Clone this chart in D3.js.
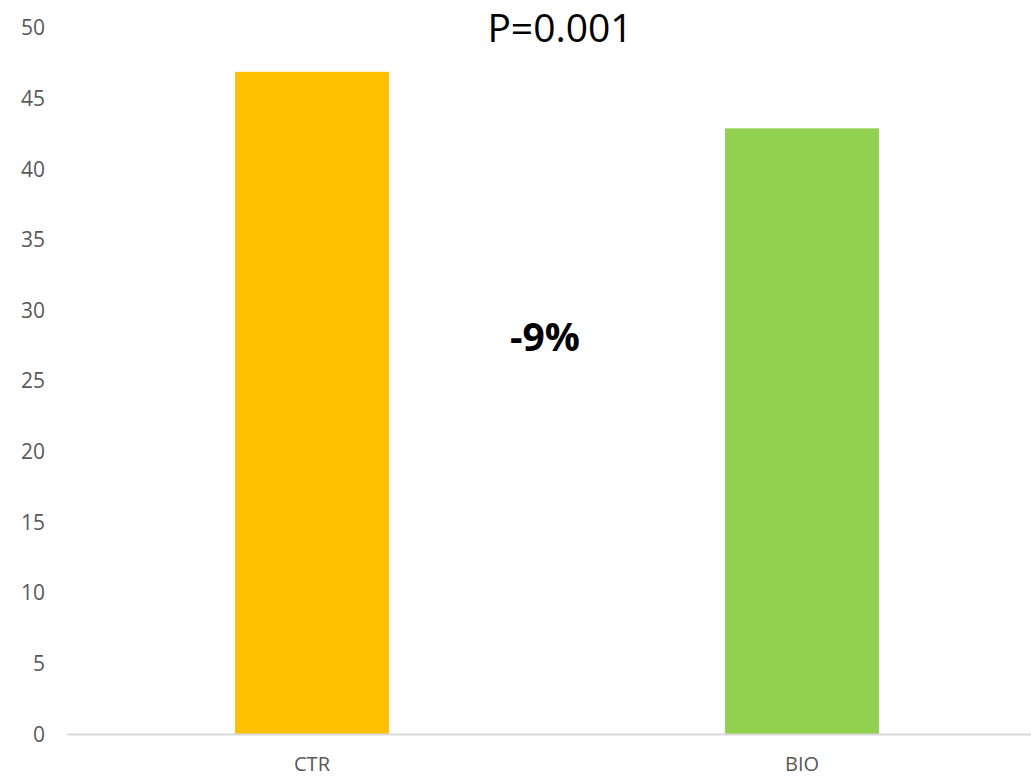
<!DOCTYPE html>
<html>
<head>
<meta charset="utf-8">
<script src="https://cdn.jsdelivr.net/npm/d3@7"></script>
<style>
  html, body { margin: 0; padding: 0; background: #fff; }
  svg { display: block; }
</style>
</head>
<body>
<svg id="chart" width="1031" height="776"></svg>
<script>
const categories = ["CTR", "BIO"];
const values = [46.9, 42.9];
const colors = ["#FFC000", "#92D050"];
const yTicks = [0, 5, 10, 15, 20, 25, 30, 35, 40, 45, 50];
const titleText = "P=0.001";
const changeText = "-9%";

const svg = d3.select("#chart");
const font = "'Open Sans', sans-serif";

const x = d3.scaleBand().domain(categories).range([67, 1047]).paddingInner(0.686).paddingOuter(0.343);
const y = d3.scaleLinear().domain([0, 50]).range([734.5, 28]);

// y tick labels
const yAxis = d3.axisLeft(y).tickValues(yTicks).tickSize(0).tickPadding(0);
const gy = svg.append("g").attr("transform", "translate(45,0)").call(yAxis);
gy.select(".domain").remove();
gy.selectAll("text").attr("font-family", font).attr("font-size", 21).attr("fill", "#595959");

// bars
svg.append("g").selectAll("rect").data(categories).join("rect")
  .attr("x", d => x(d))
  .attr("width", x.bandwidth())
  .attr("y", (d, i) => y(values[i]))
  .attr("height", (d, i) => y(0) - y(values[i]))
  .attr("fill", (d, i) => colors[i]);

// x axis
const xAxis = d3.axisBottom(x).tickSize(0).tickPadding(0);
const gx = svg.append("g").attr("transform", `translate(0,${y(0)})`).call(xAxis);
gx.select(".domain").attr("stroke", "#d9d9d9").attr("stroke-width", 2).attr("d", `M67,0H1031`);
gx.selectAll("text").attr("font-family", font).attr("font-size", 20).attr("fill", "#595959")
  .attr("dy", null).attr("y", 36);

// annotations
svg.append("text").attr("x", 560).attr("y", 42).attr("text-anchor", "middle")
  .attr("font-family", font).attr("font-size", 39).attr("fill", "#000").text(titleText);
svg.append("text").attr("x", 545).attr("y", 351).attr("text-anchor", "middle")
  .attr("font-family", font).attr("font-size", 39).attr("font-weight", "bold").attr("fill", "#000").text(changeText);
</script>
</body>
</html>
